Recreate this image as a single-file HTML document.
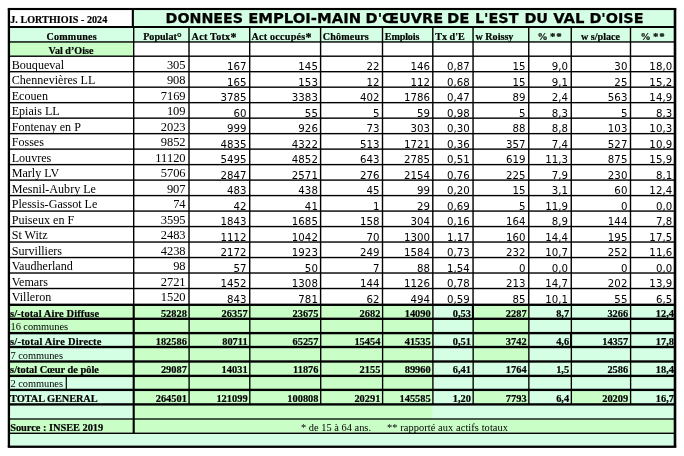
<!DOCTYPE html>
<html lang="fr"><head><meta charset="utf-8"><title>Données emploi-main d'œuvre</title>
<style>
html,body{margin:0;padding:0;background:#fff;}
body{width:684px;height:456px;overflow:hidden;}
svg{display:block;will-change:transform;}
text{fill:#000;white-space:pre;}
.ttl{font-family:"DejaVu Sans","Liberation Sans",sans-serif;font-weight:bold;font-size:14.4px;stroke:#000;stroke-width:0.25px;}
.hb{font-family:"Liberation Serif",serif;font-weight:bold;font-size:10.1px;stroke:#000;stroke-width:0.2px;}
.nm{font-family:"Liberation Serif",serif;font-size:12.1px;}
.dg{font-size:12.5px;}
.as{font-size:12px;}
.as2{font-size:10.8px;letter-spacing:0.9px;}
.pn{font-family:"Liberation Serif",serif;font-size:13px;}
.sn{font-family:"DejaVu Sans","Liberation Sans",sans-serif;font-size:10.2px;letter-spacing:0.05px;}
.sb{font-family:"Liberation Serif",serif;font-weight:bold;font-size:10.4px;stroke:#000;stroke-width:0.2px;}
.sm{font-family:"Liberation Serif",serif;font-size:10.4px;}
.ft{font-family:"Liberation Serif",serif;font-size:10.4px;}
</style></head><body>
<svg width="684" height="456" viewBox="0 0 684 456">
<rect x="8.90" y="9.00" width="666.10" height="437.75" fill="#fff"/>
<rect x="133.70" y="9.00" width="541.30" height="18.00" fill="#d5ffe5"/>
<rect x="8.90" y="27.00" width="666.10" height="14.95" fill="#d5ffe5"/>
<rect x="8.90" y="41.95" width="124.80" height="14.25" fill="#c9ffc7"/>
<rect x="8.90" y="304.80" width="124.80" height="14.00" fill="#c9ffc7"/>
<rect x="133.70" y="304.80" width="299.10" height="14.00" fill="#c9ffc7"/>
<rect x="432.80" y="304.80" width="40.25" height="14.00" fill="#d5ffe5"/>
<rect x="473.05" y="304.80" width="55.70" height="14.00" fill="#c9ffc7"/>
<rect x="528.75" y="304.80" width="42.50" height="14.00" fill="#d5ffe5"/>
<rect x="571.25" y="304.80" width="59.25" height="14.00" fill="#d5ffe5"/>
<rect x="630.50" y="304.80" width="44.50" height="14.00" fill="#d5ffe5"/>
<rect x="8.90" y="318.80" width="124.80" height="14.30" fill="#c9ffc7"/>
<rect x="133.70" y="318.80" width="299.10" height="14.30" fill="#c9ffc7"/>
<rect x="432.80" y="318.80" width="40.25" height="14.30" fill="#d5ffe5"/>
<rect x="473.05" y="318.80" width="55.70" height="14.30" fill="#c9ffc7"/>
<rect x="528.75" y="318.80" width="42.50" height="14.30" fill="#d5ffe5"/>
<rect x="571.25" y="318.80" width="59.25" height="14.30" fill="#d5ffe5"/>
<rect x="630.50" y="318.80" width="44.50" height="14.30" fill="#d5ffe5"/>
<rect x="8.90" y="333.10" width="124.80" height="13.90" fill="#d5ffe5"/>
<rect x="133.70" y="333.10" width="299.10" height="13.90" fill="#c9ffc7"/>
<rect x="432.80" y="333.10" width="40.25" height="13.90" fill="#d5ffe5"/>
<rect x="473.05" y="333.10" width="55.70" height="13.90" fill="#c9ffc7"/>
<rect x="528.75" y="333.10" width="42.50" height="13.90" fill="#d5ffe5"/>
<rect x="571.25" y="333.10" width="59.25" height="13.90" fill="#d5ffe5"/>
<rect x="630.50" y="333.10" width="44.50" height="13.90" fill="#d5ffe5"/>
<rect x="8.90" y="347.00" width="124.80" height="14.50" fill="#d5ffe5"/>
<rect x="133.70" y="347.00" width="299.10" height="14.50" fill="#c9ffc7"/>
<rect x="432.80" y="347.00" width="40.25" height="14.50" fill="#d5ffe5"/>
<rect x="473.05" y="347.00" width="55.70" height="14.50" fill="#c9ffc7"/>
<rect x="528.75" y="347.00" width="42.50" height="14.50" fill="#d5ffe5"/>
<rect x="571.25" y="347.00" width="59.25" height="14.50" fill="#d5ffe5"/>
<rect x="630.50" y="347.00" width="44.50" height="14.50" fill="#d5ffe5"/>
<rect x="8.90" y="361.50" width="124.80" height="14.40" fill="#c9ffc7"/>
<rect x="133.70" y="361.50" width="299.10" height="14.40" fill="#c9ffc7"/>
<rect x="432.80" y="361.50" width="40.25" height="14.40" fill="#d5ffe5"/>
<rect x="473.05" y="361.50" width="55.70" height="14.40" fill="#d5ffe5"/>
<rect x="528.75" y="361.50" width="42.50" height="14.40" fill="#d5ffe5"/>
<rect x="571.25" y="361.50" width="59.25" height="14.40" fill="#d5ffe5"/>
<rect x="630.50" y="361.50" width="44.50" height="14.40" fill="#d5ffe5"/>
<rect x="8.90" y="375.90" width="124.80" height="14.00" fill="#d5ffe5"/>
<rect x="133.70" y="375.90" width="299.10" height="14.00" fill="#c9ffc7"/>
<rect x="432.80" y="375.90" width="40.25" height="14.00" fill="#d5ffe5"/>
<rect x="473.05" y="375.90" width="55.70" height="14.00" fill="#d5ffe5"/>
<rect x="528.75" y="375.90" width="42.50" height="14.00" fill="#d5ffe5"/>
<rect x="571.25" y="375.90" width="59.25" height="14.00" fill="#d5ffe5"/>
<rect x="630.50" y="375.90" width="44.50" height="14.00" fill="#d5ffe5"/>
<rect x="8.90" y="389.90" width="124.80" height="14.50" fill="#d5ffe5"/>
<rect x="133.70" y="389.90" width="299.10" height="14.50" fill="#c9ffc7"/>
<rect x="432.80" y="389.90" width="40.25" height="14.50" fill="#d5ffe5"/>
<rect x="473.05" y="389.90" width="55.70" height="14.50" fill="#c9ffc7"/>
<rect x="528.75" y="389.90" width="42.50" height="14.50" fill="#d5ffe5"/>
<rect x="571.25" y="389.90" width="59.25" height="14.50" fill="#c9ffc7"/>
<rect x="630.50" y="389.90" width="44.50" height="14.50" fill="#d5ffe5"/>
<rect x="8.90" y="404.40" width="124.80" height="14.60" fill="#d5ffe5"/>
<rect x="133.70" y="404.40" width="299.10" height="14.60" fill="#c9ffc7"/>
<rect x="432.80" y="404.40" width="242.20" height="14.60" fill="#d5ffe5"/>
<rect x="8.90" y="419.00" width="666.10" height="14.30" fill="#c9ffc7"/>
<rect x="8.90" y="433.30" width="666.10" height="13.45" fill="#d5ffe5"/>
<rect x="7.75" y="7.95" width="668.55" height="2.10" fill="#000"/>
<rect x="7.75" y="445.60" width="668.55" height="2.30" fill="#000"/>
<rect x="7.75" y="9.00" width="2.30" height="437.75" fill="#000"/>
<rect x="673.70" y="9.00" width="2.60" height="437.75" fill="#000"/>
<rect x="8.90" y="26.00" width="666.10" height="2.00" fill="#000"/>
<rect x="131.80" y="9.00" width="2.10" height="18.00" fill="#000"/>
<rect x="8.90" y="41.25" width="666.10" height="1.40" fill="#000"/>
<rect x="8.90" y="55.50" width="666.10" height="1.40" fill="#000"/>
<rect x="8.90" y="70.99" width="666.10" height="1.40" fill="#000"/>
<rect x="8.90" y="86.47" width="666.10" height="1.40" fill="#000"/>
<rect x="8.90" y="101.96" width="666.10" height="1.40" fill="#000"/>
<rect x="8.90" y="117.45" width="666.10" height="1.40" fill="#000"/>
<rect x="8.90" y="132.94" width="666.10" height="1.40" fill="#000"/>
<rect x="8.90" y="148.42" width="666.10" height="1.40" fill="#000"/>
<rect x="8.90" y="163.91" width="666.10" height="1.40" fill="#000"/>
<rect x="8.90" y="179.40" width="666.10" height="1.40" fill="#000"/>
<rect x="8.90" y="194.88" width="666.10" height="1.40" fill="#000"/>
<rect x="8.90" y="210.37" width="666.10" height="1.40" fill="#000"/>
<rect x="8.90" y="225.86" width="666.10" height="1.40" fill="#000"/>
<rect x="8.90" y="241.34" width="666.10" height="1.40" fill="#000"/>
<rect x="8.90" y="256.83" width="666.10" height="1.40" fill="#000"/>
<rect x="8.90" y="272.32" width="666.10" height="1.40" fill="#000"/>
<rect x="8.90" y="287.81" width="666.10" height="1.40" fill="#000"/>
<rect x="133.00" y="27.00" width="1.40" height="277.80" fill="#000"/>
<rect x="188.30" y="27.00" width="1.40" height="277.80" fill="#000"/>
<rect x="249.00" y="27.00" width="1.40" height="277.80" fill="#000"/>
<rect x="319.90" y="27.00" width="1.40" height="277.80" fill="#000"/>
<rect x="381.80" y="27.00" width="1.40" height="277.80" fill="#000"/>
<rect x="432.10" y="27.00" width="1.40" height="277.80" fill="#000"/>
<rect x="472.35" y="27.00" width="1.40" height="277.80" fill="#000"/>
<rect x="528.05" y="27.00" width="1.40" height="277.80" fill="#000"/>
<rect x="570.55" y="27.00" width="1.40" height="277.80" fill="#000"/>
<rect x="629.80" y="27.00" width="1.40" height="277.80" fill="#000"/>
<rect x="8.90" y="303.62" width="666.10" height="2.35" fill="#000"/>
<rect x="8.90" y="317.62" width="666.10" height="2.35" fill="#000"/>
<rect x="8.90" y="331.93" width="666.10" height="2.35" fill="#000"/>
<rect x="8.90" y="345.82" width="666.10" height="2.35" fill="#000"/>
<rect x="8.90" y="360.32" width="666.10" height="2.35" fill="#000"/>
<rect x="8.90" y="374.72" width="666.10" height="2.35" fill="#000"/>
<rect x="8.90" y="388.72" width="666.10" height="2.35" fill="#000"/>
<rect x="8.90" y="403.22" width="666.10" height="2.35" fill="#000"/>
<rect x="8.90" y="418.35" width="666.10" height="1.30" fill="#000"/>
<rect x="8.90" y="432.60" width="666.10" height="1.40" fill="#000"/>
<rect x="132.65" y="304.80" width="2.10" height="128.50" fill="#000"/>
<rect x="188.42" y="304.80" width="1.35" height="99.60" fill="#000"/>
<rect x="249.12" y="304.80" width="1.35" height="99.60" fill="#000"/>
<rect x="320.03" y="304.80" width="1.35" height="99.60" fill="#000"/>
<rect x="381.93" y="304.80" width="1.35" height="99.60" fill="#000"/>
<rect x="432.23" y="304.80" width="1.35" height="99.60" fill="#000"/>
<rect x="472.48" y="304.80" width="1.35" height="99.60" fill="#000"/>
<rect x="528.18" y="304.80" width="1.35" height="99.60" fill="#000"/>
<rect x="570.68" y="304.80" width="1.35" height="99.60" fill="#000"/>
<rect x="629.93" y="304.80" width="1.35" height="99.60" fill="#000"/>
<rect x="471.85" y="304.80" width="2.00" height="14.00" fill="#000"/>
<rect x="570.05" y="333.10" width="2.00" height="13.90" fill="#000"/>
<rect x="65.70" y="376.90" width="1.20" height="12.00" fill="#000"/>
<text x="10.20" y="23.10" class="hb" textLength="97.00" lengthAdjust="spacing">J. LORTHIOIS - 2024</text>
<text x="165.60" y="23.00" class="ttl" textLength="77.50" lengthAdjust="spacingAndGlyphs">DONNEES</text>
<text x="248.20" y="23.00" class="ttl" textLength="112.90" lengthAdjust="spacingAndGlyphs">EMPLOI-MAIN</text>
<text x="365.60" y="23.00" class="ttl" textLength="77.50" lengthAdjust="spacingAndGlyphs">D'ŒUVRE</text>
<text x="446.90" y="23.00" class="ttl" textLength="22.50" lengthAdjust="spacingAndGlyphs">DE</text>
<text x="474.90" y="23.00" class="ttl" textLength="43.70" lengthAdjust="spacingAndGlyphs">L'EST</text>
<text x="524.40" y="23.00" class="ttl" textLength="23.70" lengthAdjust="spacingAndGlyphs">DU</text>
<text x="553.20" y="23.00" class="ttl" textLength="31.20" lengthAdjust="spacingAndGlyphs">VAL</text>
<text x="589.40" y="23.00" class="ttl" textLength="54.20" lengthAdjust="spacingAndGlyphs">D'OISE</text>
<text x="46.50" y="39.80" class="hb" textLength="50.20" lengthAdjust="spacing">Communes</text>
<text x="162.50" y="39.80" class="hb" text-anchor="middle">Populat<tspan class="dg" dy="1.2">°</tspan></text>
<text x="191.60" y="39.80" class="hb" textLength="44.80" lengthAdjust="spacing">Act Totx<tspan class="as" dy="0.9">*</tspan></text>
<text x="251.40" y="39.80" class="hb" textLength="60.00" lengthAdjust="spacing">Act occupés<tspan class="as" dy="0.9">*</tspan></text>
<text x="322.80" y="39.80" class="hb" textLength="46.00" lengthAdjust="spacing">Chômeurs</text>
<text x="384.80" y="39.80" class="hb" textLength="34.60" lengthAdjust="spacing">Emplois</text>
<text x="435.30" y="39.80" class="hb">Tx d'E</text>
<text x="475.50" y="39.80" class="hb">w Roissy</text>
<text x="550.00" y="39.80" class="hb" text-anchor="middle">% <tspan class="as2" dy="0.4">**</tspan></text>
<text x="600.50" y="39.80" class="hb" text-anchor="middle">w s/place</text>
<text x="653.00" y="39.80" class="hb" text-anchor="middle">% <tspan class="as2" dy="0.4">**</tspan></text>
<text x="71.00" y="54.20" class="hb" text-anchor="middle">Val d’Oise</text>
<text x="11.70" y="68.80" class="nm">Bouqueval</text>
<text transform="translate(185.60 69.00) scale(0.96 1)" class="pn" text-anchor="end">305</text>
<text x="246.65" y="70.20" class="sn" text-anchor="end">167</text>
<text x="317.95" y="70.20" class="sn" text-anchor="end">145</text>
<text x="379.60" y="70.20" class="sn" text-anchor="end">22</text>
<text x="430.15" y="70.20" class="sn" text-anchor="end">146</text>
<text x="469.85" y="70.20" class="sn" text-anchor="end">0,87</text>
<text x="525.50" y="70.20" class="sn" text-anchor="end">15</text>
<text x="568.15" y="70.20" class="sn" text-anchor="end">9,0</text>
<text x="627.45" y="70.20" class="sn" text-anchor="end">30</text>
<text x="672.25" y="70.20" class="sn" text-anchor="end">18,0</text>
<text x="11.70" y="84.29" class="nm">Chennevières LL</text>
<text transform="translate(185.60 84.49) scale(0.96 1)" class="pn" text-anchor="end">908</text>
<text x="246.65" y="85.69" class="sn" text-anchor="end">165</text>
<text x="317.95" y="85.69" class="sn" text-anchor="end">153</text>
<text x="379.60" y="85.69" class="sn" text-anchor="end">12</text>
<text x="430.15" y="85.69" class="sn" text-anchor="end">112</text>
<text x="469.85" y="85.69" class="sn" text-anchor="end">0,68</text>
<text x="525.50" y="85.69" class="sn" text-anchor="end">15</text>
<text x="568.15" y="85.69" class="sn" text-anchor="end">9,1</text>
<text x="627.45" y="85.69" class="sn" text-anchor="end">25</text>
<text x="672.25" y="85.69" class="sn" text-anchor="end">15,2</text>
<text x="11.70" y="99.77" class="nm">Ecouen</text>
<text transform="translate(185.60 99.97) scale(0.96 1)" class="pn" text-anchor="end">7169</text>
<text x="246.65" y="101.17" class="sn" text-anchor="end">3785</text>
<text x="317.95" y="101.17" class="sn" text-anchor="end">3383</text>
<text x="379.60" y="101.17" class="sn" text-anchor="end">402</text>
<text x="430.15" y="101.17" class="sn" text-anchor="end">1786</text>
<text x="469.85" y="101.17" class="sn" text-anchor="end">0,47</text>
<text x="525.50" y="101.17" class="sn" text-anchor="end">89</text>
<text x="568.15" y="101.17" class="sn" text-anchor="end">2,4</text>
<text x="627.45" y="101.17" class="sn" text-anchor="end">563</text>
<text x="672.25" y="101.17" class="sn" text-anchor="end">14,9</text>
<text x="11.70" y="115.26" class="nm">Epiais LL</text>
<text transform="translate(185.60 115.46) scale(0.96 1)" class="pn" text-anchor="end">109</text>
<text x="246.65" y="116.66" class="sn" text-anchor="end">60</text>
<text x="317.95" y="116.66" class="sn" text-anchor="end">55</text>
<text x="379.60" y="116.66" class="sn" text-anchor="end">5</text>
<text x="430.15" y="116.66" class="sn" text-anchor="end">59</text>
<text x="469.85" y="116.66" class="sn" text-anchor="end">0,98</text>
<text x="525.50" y="116.66" class="sn" text-anchor="end">5</text>
<text x="568.15" y="116.66" class="sn" text-anchor="end">8,3</text>
<text x="627.45" y="116.66" class="sn" text-anchor="end">5</text>
<text x="672.25" y="116.66" class="sn" text-anchor="end">8,3</text>
<text x="11.70" y="130.75" class="nm">Fontenay en P</text>
<text transform="translate(185.60 130.95) scale(0.96 1)" class="pn" text-anchor="end">2023</text>
<text x="246.65" y="132.15" class="sn" text-anchor="end">999</text>
<text x="317.95" y="132.15" class="sn" text-anchor="end">926</text>
<text x="379.60" y="132.15" class="sn" text-anchor="end">73</text>
<text x="430.15" y="132.15" class="sn" text-anchor="end">303</text>
<text x="469.85" y="132.15" class="sn" text-anchor="end">0,30</text>
<text x="525.50" y="132.15" class="sn" text-anchor="end">88</text>
<text x="568.15" y="132.15" class="sn" text-anchor="end">8,8</text>
<text x="627.45" y="132.15" class="sn" text-anchor="end">103</text>
<text x="672.25" y="132.15" class="sn" text-anchor="end">10,3</text>
<text x="11.70" y="146.23" class="nm">Fosses</text>
<text transform="translate(185.60 146.44) scale(0.96 1)" class="pn" text-anchor="end">9852</text>
<text x="246.65" y="147.63" class="sn" text-anchor="end">4835</text>
<text x="317.95" y="147.63" class="sn" text-anchor="end">4322</text>
<text x="379.60" y="147.63" class="sn" text-anchor="end">513</text>
<text x="430.15" y="147.63" class="sn" text-anchor="end">1721</text>
<text x="469.85" y="147.63" class="sn" text-anchor="end">0,36</text>
<text x="525.50" y="147.63" class="sn" text-anchor="end">357</text>
<text x="568.15" y="147.63" class="sn" text-anchor="end">7,4</text>
<text x="627.45" y="147.63" class="sn" text-anchor="end">527</text>
<text x="672.25" y="147.63" class="sn" text-anchor="end">10,9</text>
<text x="11.70" y="161.72" class="nm">Louvres</text>
<text transform="translate(185.60 161.92) scale(0.96 1)" class="pn" text-anchor="end">11120</text>
<text x="246.65" y="163.12" class="sn" text-anchor="end">5495</text>
<text x="317.95" y="163.12" class="sn" text-anchor="end">4852</text>
<text x="379.60" y="163.12" class="sn" text-anchor="end">643</text>
<text x="430.15" y="163.12" class="sn" text-anchor="end">2785</text>
<text x="469.85" y="163.12" class="sn" text-anchor="end">0,51</text>
<text x="525.50" y="163.12" class="sn" text-anchor="end">619</text>
<text x="568.15" y="163.12" class="sn" text-anchor="end">11,3</text>
<text x="627.45" y="163.12" class="sn" text-anchor="end">875</text>
<text x="672.25" y="163.12" class="sn" text-anchor="end">15,9</text>
<text x="11.70" y="177.21" class="nm">Marly LV</text>
<text transform="translate(185.60 177.41) scale(0.96 1)" class="pn" text-anchor="end">5706</text>
<text x="246.65" y="178.61" class="sn" text-anchor="end">2847</text>
<text x="317.95" y="178.61" class="sn" text-anchor="end">2571</text>
<text x="379.60" y="178.61" class="sn" text-anchor="end">276</text>
<text x="430.15" y="178.61" class="sn" text-anchor="end">2154</text>
<text x="469.85" y="178.61" class="sn" text-anchor="end">0,76</text>
<text x="525.50" y="178.61" class="sn" text-anchor="end">225</text>
<text x="568.15" y="178.61" class="sn" text-anchor="end">7,9</text>
<text x="627.45" y="178.61" class="sn" text-anchor="end">230</text>
<text x="672.25" y="178.61" class="sn" text-anchor="end">8,1</text>
<text x="11.70" y="192.70" class="nm">Mesnil-Aubry Le</text>
<text transform="translate(185.60 192.90) scale(0.96 1)" class="pn" text-anchor="end">907</text>
<text x="246.65" y="194.10" class="sn" text-anchor="end">483</text>
<text x="317.95" y="194.10" class="sn" text-anchor="end">438</text>
<text x="379.60" y="194.10" class="sn" text-anchor="end">45</text>
<text x="430.15" y="194.10" class="sn" text-anchor="end">99</text>
<text x="469.85" y="194.10" class="sn" text-anchor="end">0,20</text>
<text x="525.50" y="194.10" class="sn" text-anchor="end">15</text>
<text x="568.15" y="194.10" class="sn" text-anchor="end">3,1</text>
<text x="627.45" y="194.10" class="sn" text-anchor="end">60</text>
<text x="672.25" y="194.10" class="sn" text-anchor="end">12,4</text>
<text x="11.70" y="208.18" class="nm">Plessis-Gassot Le</text>
<text transform="translate(185.60 208.38) scale(0.96 1)" class="pn" text-anchor="end">74</text>
<text x="246.65" y="209.58" class="sn" text-anchor="end">42</text>
<text x="317.95" y="209.58" class="sn" text-anchor="end">41</text>
<text x="379.60" y="209.58" class="sn" text-anchor="end">1</text>
<text x="430.15" y="209.58" class="sn" text-anchor="end">29</text>
<text x="469.85" y="209.58" class="sn" text-anchor="end">0,69</text>
<text x="525.50" y="209.58" class="sn" text-anchor="end">5</text>
<text x="568.15" y="209.58" class="sn" text-anchor="end">11,9</text>
<text x="627.45" y="209.58" class="sn" text-anchor="end">0</text>
<text x="672.25" y="209.58" class="sn" text-anchor="end">0,0</text>
<text x="11.70" y="223.67" class="nm">Puiseux en F</text>
<text transform="translate(185.60 223.87) scale(0.96 1)" class="pn" text-anchor="end">3595</text>
<text x="246.65" y="225.07" class="sn" text-anchor="end">1843</text>
<text x="317.95" y="225.07" class="sn" text-anchor="end">1685</text>
<text x="379.60" y="225.07" class="sn" text-anchor="end">158</text>
<text x="430.15" y="225.07" class="sn" text-anchor="end">304</text>
<text x="469.85" y="225.07" class="sn" text-anchor="end">0,16</text>
<text x="525.50" y="225.07" class="sn" text-anchor="end">164</text>
<text x="568.15" y="225.07" class="sn" text-anchor="end">8,9</text>
<text x="627.45" y="225.07" class="sn" text-anchor="end">144</text>
<text x="672.25" y="225.07" class="sn" text-anchor="end">7,8</text>
<text x="11.70" y="239.16" class="nm">St Witz</text>
<text transform="translate(185.60 239.36) scale(0.96 1)" class="pn" text-anchor="end">2483</text>
<text x="246.65" y="240.56" class="sn" text-anchor="end">1112</text>
<text x="317.95" y="240.56" class="sn" text-anchor="end">1042</text>
<text x="379.60" y="240.56" class="sn" text-anchor="end">70</text>
<text x="430.15" y="240.56" class="sn" text-anchor="end">1300</text>
<text x="469.85" y="240.56" class="sn" text-anchor="end">1,17</text>
<text x="525.50" y="240.56" class="sn" text-anchor="end">160</text>
<text x="568.15" y="240.56" class="sn" text-anchor="end">14,4</text>
<text x="627.45" y="240.56" class="sn" text-anchor="end">195</text>
<text x="672.25" y="240.56" class="sn" text-anchor="end">17,5</text>
<text x="11.70" y="254.64" class="nm">Survilliers</text>
<text transform="translate(185.60 254.84) scale(0.96 1)" class="pn" text-anchor="end">4238</text>
<text x="246.65" y="256.04" class="sn" text-anchor="end">2172</text>
<text x="317.95" y="256.04" class="sn" text-anchor="end">1923</text>
<text x="379.60" y="256.04" class="sn" text-anchor="end">249</text>
<text x="430.15" y="256.04" class="sn" text-anchor="end">1584</text>
<text x="469.85" y="256.04" class="sn" text-anchor="end">0,73</text>
<text x="525.50" y="256.04" class="sn" text-anchor="end">232</text>
<text x="568.15" y="256.04" class="sn" text-anchor="end">10,7</text>
<text x="627.45" y="256.04" class="sn" text-anchor="end">252</text>
<text x="672.25" y="256.04" class="sn" text-anchor="end">11,6</text>
<text x="11.70" y="270.13" class="nm">Vaudherland</text>
<text transform="translate(185.60 270.33) scale(0.96 1)" class="pn" text-anchor="end">98</text>
<text x="246.65" y="271.53" class="sn" text-anchor="end">57</text>
<text x="317.95" y="271.53" class="sn" text-anchor="end">50</text>
<text x="379.60" y="271.53" class="sn" text-anchor="end">7</text>
<text x="430.15" y="271.53" class="sn" text-anchor="end">88</text>
<text x="469.85" y="271.53" class="sn" text-anchor="end">1,54</text>
<text x="525.50" y="271.53" class="sn" text-anchor="end">0</text>
<text x="568.15" y="271.53" class="sn" text-anchor="end">0,0</text>
<text x="627.45" y="271.53" class="sn" text-anchor="end">0</text>
<text x="672.25" y="271.53" class="sn" text-anchor="end">0,0</text>
<text x="11.70" y="285.62" class="nm">Vemars</text>
<text transform="translate(185.60 285.82) scale(0.96 1)" class="pn" text-anchor="end">2721</text>
<text x="246.65" y="287.02" class="sn" text-anchor="end">1452</text>
<text x="317.95" y="287.02" class="sn" text-anchor="end">1308</text>
<text x="379.60" y="287.02" class="sn" text-anchor="end">144</text>
<text x="430.15" y="287.02" class="sn" text-anchor="end">1126</text>
<text x="469.85" y="287.02" class="sn" text-anchor="end">0,78</text>
<text x="525.50" y="287.02" class="sn" text-anchor="end">213</text>
<text x="568.15" y="287.02" class="sn" text-anchor="end">14,7</text>
<text x="627.45" y="287.02" class="sn" text-anchor="end">202</text>
<text x="672.25" y="287.02" class="sn" text-anchor="end">13,9</text>
<text x="11.70" y="301.11" class="nm">Villeron</text>
<text transform="translate(185.60 301.31) scale(0.96 1)" class="pn" text-anchor="end">1520</text>
<text x="246.65" y="302.50" class="sn" text-anchor="end">843</text>
<text x="317.95" y="302.50" class="sn" text-anchor="end">781</text>
<text x="379.60" y="302.50" class="sn" text-anchor="end">62</text>
<text x="430.15" y="302.50" class="sn" text-anchor="end">494</text>
<text x="469.85" y="302.50" class="sn" text-anchor="end">0,59</text>
<text x="525.50" y="302.50" class="sn" text-anchor="end">85</text>
<text x="568.15" y="302.50" class="sn" text-anchor="end">10,1</text>
<text x="627.45" y="302.50" class="sn" text-anchor="end">55</text>
<text x="672.25" y="302.50" class="sn" text-anchor="end">6,5</text>
<text x="10.10" y="316.50" class="sb" textLength="88.90" lengthAdjust="spacing">s/-total Aire Diffuse</text>
<text x="186.90" y="316.50" class="sb" text-anchor="end">52828</text>
<text x="247.60" y="316.50" class="sb" text-anchor="end">26357</text>
<text x="318.50" y="316.50" class="sb" text-anchor="end">23675</text>
<text x="380.40" y="316.50" class="sb" text-anchor="end">2682</text>
<text x="430.70" y="316.50" class="sb" text-anchor="end">14090</text>
<text x="470.95" y="316.50" class="sb" text-anchor="end">0,53</text>
<text x="526.65" y="316.50" class="sb" text-anchor="end">2287</text>
<text x="569.15" y="316.50" class="sb" text-anchor="end">8,7</text>
<text x="628.20" y="316.50" class="sb" text-anchor="end">3266</text>
<text x="674.00" y="316.50" class="sb" text-anchor="end">12,4</text>
<text x="10.50" y="330.30" class="sm" textLength="57.50" lengthAdjust="spacing">16 communes</text>
<text x="10.10" y="344.80" class="sb" textLength="91.30" lengthAdjust="spacing">s/-total Aire Directe</text>
<text x="186.90" y="344.80" class="sb" text-anchor="end">182586</text>
<text x="247.60" y="344.80" class="sb" text-anchor="end">80711</text>
<text x="318.50" y="344.80" class="sb" text-anchor="end">65257</text>
<text x="380.40" y="344.80" class="sb" text-anchor="end">15454</text>
<text x="430.70" y="344.80" class="sb" text-anchor="end">41535</text>
<text x="470.95" y="344.80" class="sb" text-anchor="end">0,51</text>
<text x="526.65" y="344.80" class="sb" text-anchor="end">3742</text>
<text x="569.15" y="344.80" class="sb" text-anchor="end">4,6</text>
<text x="628.20" y="344.80" class="sb" text-anchor="end">14357</text>
<text x="674.00" y="344.80" class="sb" text-anchor="end">17,8</text>
<text x="10.50" y="358.50" class="sm" textLength="52.50" lengthAdjust="spacing">7 communes</text>
<text x="10.10" y="373.20" class="sb" textLength="88.80" lengthAdjust="spacing">s/total Cœur de pôle</text>
<text x="186.90" y="373.20" class="sb" text-anchor="end">29087</text>
<text x="247.60" y="373.20" class="sb" text-anchor="end">14031</text>
<text x="318.50" y="373.20" class="sb" text-anchor="end">11876</text>
<text x="380.40" y="373.20" class="sb" text-anchor="end">2155</text>
<text x="430.70" y="373.20" class="sb" text-anchor="end">89960</text>
<text x="470.95" y="373.20" class="sb" text-anchor="end">6,41</text>
<text x="526.65" y="373.20" class="sb" text-anchor="end">1764</text>
<text x="569.15" y="373.20" class="sb" text-anchor="end">1,5</text>
<text x="628.20" y="373.20" class="sb" text-anchor="end">2586</text>
<text x="674.00" y="373.20" class="sb" text-anchor="end">18,4</text>
<text x="10.50" y="387.40" class="sm" textLength="52.50" lengthAdjust="spacing">2 communes</text>
<text x="10.10" y="401.60" class="sb" textLength="87.60" lengthAdjust="spacing">TOTAL GENERAL</text>
<text x="186.90" y="401.60" class="sb" text-anchor="end">264501</text>
<text x="247.60" y="401.60" class="sb" text-anchor="end">121099</text>
<text x="318.50" y="401.60" class="sb" text-anchor="end">100808</text>
<text x="380.40" y="401.60" class="sb" text-anchor="end">20291</text>
<text x="430.70" y="401.60" class="sb" text-anchor="end">145585</text>
<text x="470.95" y="401.60" class="sb" text-anchor="end">1,20</text>
<text x="526.65" y="401.60" class="sb" text-anchor="end">7793</text>
<text x="569.15" y="401.60" class="sb" text-anchor="end">6,4</text>
<text x="628.20" y="401.60" class="sb" text-anchor="end">20209</text>
<text x="674.00" y="401.60" class="sb" text-anchor="end">16,7</text>
<text x="10.20" y="431.30" class="sb" textLength="93.00" lengthAdjust="spacing">Source : INSEE 2019</text>
<text x="301.00" y="431.00" class="ft" textLength="70.00" lengthAdjust="spacing">* de 15 à 64 ans.</text>
<text x="387.00" y="431.00" class="ft" textLength="121.00" lengthAdjust="spacing">** rapporté aux actifs totaux</text>
</svg>
</body></html>
